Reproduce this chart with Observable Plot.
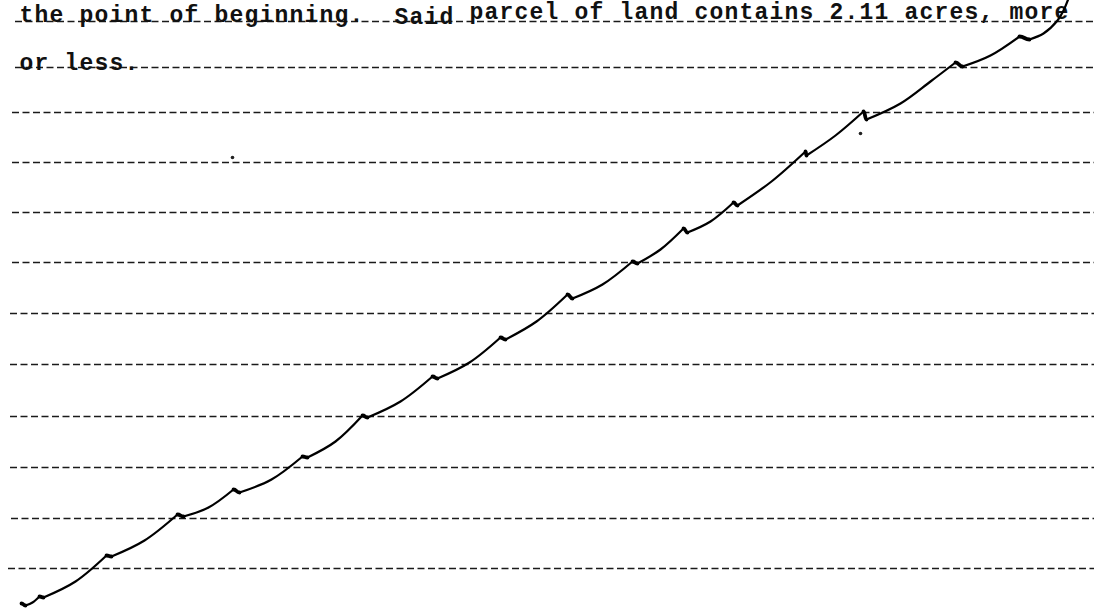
<!DOCTYPE html>
<html>
<head>
<meta charset="utf-8">
<script src="https://cdn.jsdelivr.net/npm/d3@7"></script>
<script src="https://cdn.jsdelivr.net/npm/@observablehq/plot@0.6"></script>
<style>
  html, body { margin: 0; padding: 0; background: #fff; overflow: hidden; }
  #chart svg text { letter-spacing: 1.2px; }
</style>
</head>
<body>
<div id="chart"></div>
<script>
// Ruled (typed dash) rows: vertical position and left start
const rowY     = [21, 67, 112, 162, 212, 262, 313, 364, 416, 467, 518, 568];
const rowStart = [15, 15, 12, 12, 12, 12, 10, 10, 10, 10, 11, 8];

// Typed text fragments
const textStr  = ["the point of beginning.", "Said", "parcel of land contains 2.11 acres, more", "or less."];
const textX    = [19, 394, 469, 19];
const textBase = [21, 23, 18, 69];

// Flourish (diagonal fill line): hook tips, hook dips, and in-between points
const hookTip = [[21,603],[39,596],[106,555],[177,514],[233,489],[302,456],[362,415],[432,376],[500,337],[567,294],[632,261],[683,228],[733,202],[805,151],[863,111],[955,62],[1019,36]];
const hookDip = [[25,605],[43,597],[111,556],[183,516],[239,492],[307,457],[367,417],[437,378],[505,339],[572,298],[637,263],[687,232],[737,205],[806,155],[866,119],[962,66],[1029,39]];
const between = [[[32,602]],[[75,581]],[[144,540]],[[208,507]],[[271,479]],[[335,441]],[[400,401]],[[469,362]],[[536,321]],[[602,284]],[[660,249]],[[710,221]],[[771,181]],[[835,135]],[[900,103],[930,81]],[[990,55]],[[1043,33],[1057,20],[1063,10],[1068,-2]]];

// Stray specks on the page
const specks = [[232,157],[860,133]];

// One smooth stroke per scallop: dip -> in-between -> next tip
const strokes = [];
hookDip.forEach((d, i) => {
  const pts = [d, ...between[i]];
  if (i + 1 < hookTip.length) pts.push(hookTip[i + 1]);
  pts.forEach(p => strokes.push({x: p[0], y: p[1], seg: i}));
});
const rows = rowY.map((y, i) => ({y, x1: rowStart[i]}));
const texts = textStr.map((s, i) => ({s, x: textX[i], y: textBase[i]}));
const hooks = hookTip.map((t, i) => ({x1: t[0], y1: t[1], x2: hookDip[i][0], y2: hookDip[i][1]}));

const fs = 23;
const plot = Plot.plot({
  width: 1094,
  height: 614,
  margin: 0,
  x: {domain: [0, 1094], range: [0, 1094], axis: null},
  y: {domain: [0, 614], range: [0, 614], axis: null},
  style: {background: "#fff"},
  marks: [
    Plot.ruleY(rows, {y: "y", x1: "x1", x2: 1094, stroke: "#1a1a1a", strokeWidth: 1.5, strokeDasharray: "7,3.5"}),
    Plot.text(texts, {
      x: "x", y: d => d.y - 0.32 * fs, text: "s",
      textAnchor: "start", lineAnchor: "middle",
      fontFamily: "Liberation Mono", fontSize: fs, fontWeight: "bold", fill: "#111"
    }),
    Plot.line(strokes, {x: "x", y: "y", z: "seg", curve: "catmull-rom", stroke: "#000", strokeWidth: 2.2, strokeLinecap: "round", strokeLinejoin: "round"}),
    Plot.link(hooks, {x1: "x1", y1: "y1", x2: "x2", y2: "y2", curve: "bump-x", stroke: "#000", strokeWidth: 3.8, strokeLinecap: "round"}),
    Plot.dot(specks, {x: d => d[0], y: d => d[1], r: 1.8, fill: "#222", stroke: null})
  ]
});
document.getElementById("chart").appendChild(plot);
</script>
</body>
</html>
